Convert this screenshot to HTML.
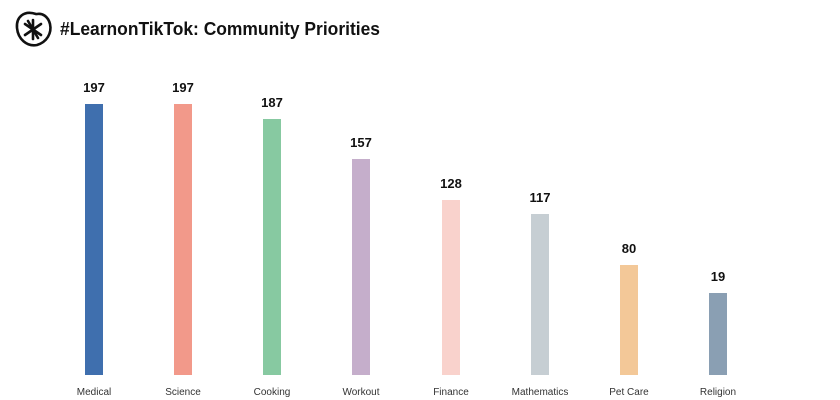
<!DOCTYPE html>
<html><head><style>
body{margin:0;background:#fff;}
svg{display:block;font-family:"Liberation Sans",sans-serif;}
</style></head><body>
<svg width="840" height="400" viewBox="0 0 840 400">
<g stroke="#111" fill="none" stroke-width="2.6" stroke-linecap="round">
<path d="M36 14 C24 10 16 17 17 28 C18 39 27 47 37 45 C47 42 52 33 50 24 C48 16 42 13 37 14"/>
<path d="M33 20 L33 39 M25 24 L41 35 M25 35 L41 24 M28 21 L38 38"/>
</g>
<text x="60" y="35" font-size="18" font-weight="bold" fill="#111" textLength="320" lengthAdjust="spacingAndGlyphs">#LearnonTikTok: Community Priorities</text>
<g font-size="13" font-weight="bold" fill="#111" text-anchor="middle">
<rect x="85" y="104" width="18" height="271" fill="#3f6fae"/><text x="94" y="92">197</text>
<rect x="174" y="104" width="18" height="271" fill="#f2998a"/><text x="183" y="92">197</text>
<rect x="263" y="119" width="18" height="256" fill="#87c9a1"/><text x="272" y="107">187</text>
<rect x="352" y="159" width="18" height="216" fill="#c5aecb"/><text x="361" y="147">157</text>
<rect x="442" y="200" width="18" height="175" fill="#f9d2cc"/><text x="451" y="188">128</text>
<rect x="531" y="214" width="18" height="161" fill="#c6ced3"/><text x="540" y="202">117</text>
<rect x="620" y="265" width="18" height="110" fill="#f3c898"/><text x="629" y="253">80</text>
<rect x="709" y="293" width="18" height="82" fill="#8a9fb3"/><text x="718" y="281">19</text>
</g>
<g font-size="10" fill="#333" text-anchor="middle">
<text x="94" y="395">Medical</text>
<text x="183" y="395">Science</text>
<text x="272" y="395">Cooking</text>
<text x="361" y="395">Workout</text>
<text x="451" y="395">Finance</text>
<text x="540" y="395">Mathematics</text>
<text x="629" y="395">Pet Care</text>
<text x="718" y="395">Religion</text>
</g>
</svg>
</body></html>
